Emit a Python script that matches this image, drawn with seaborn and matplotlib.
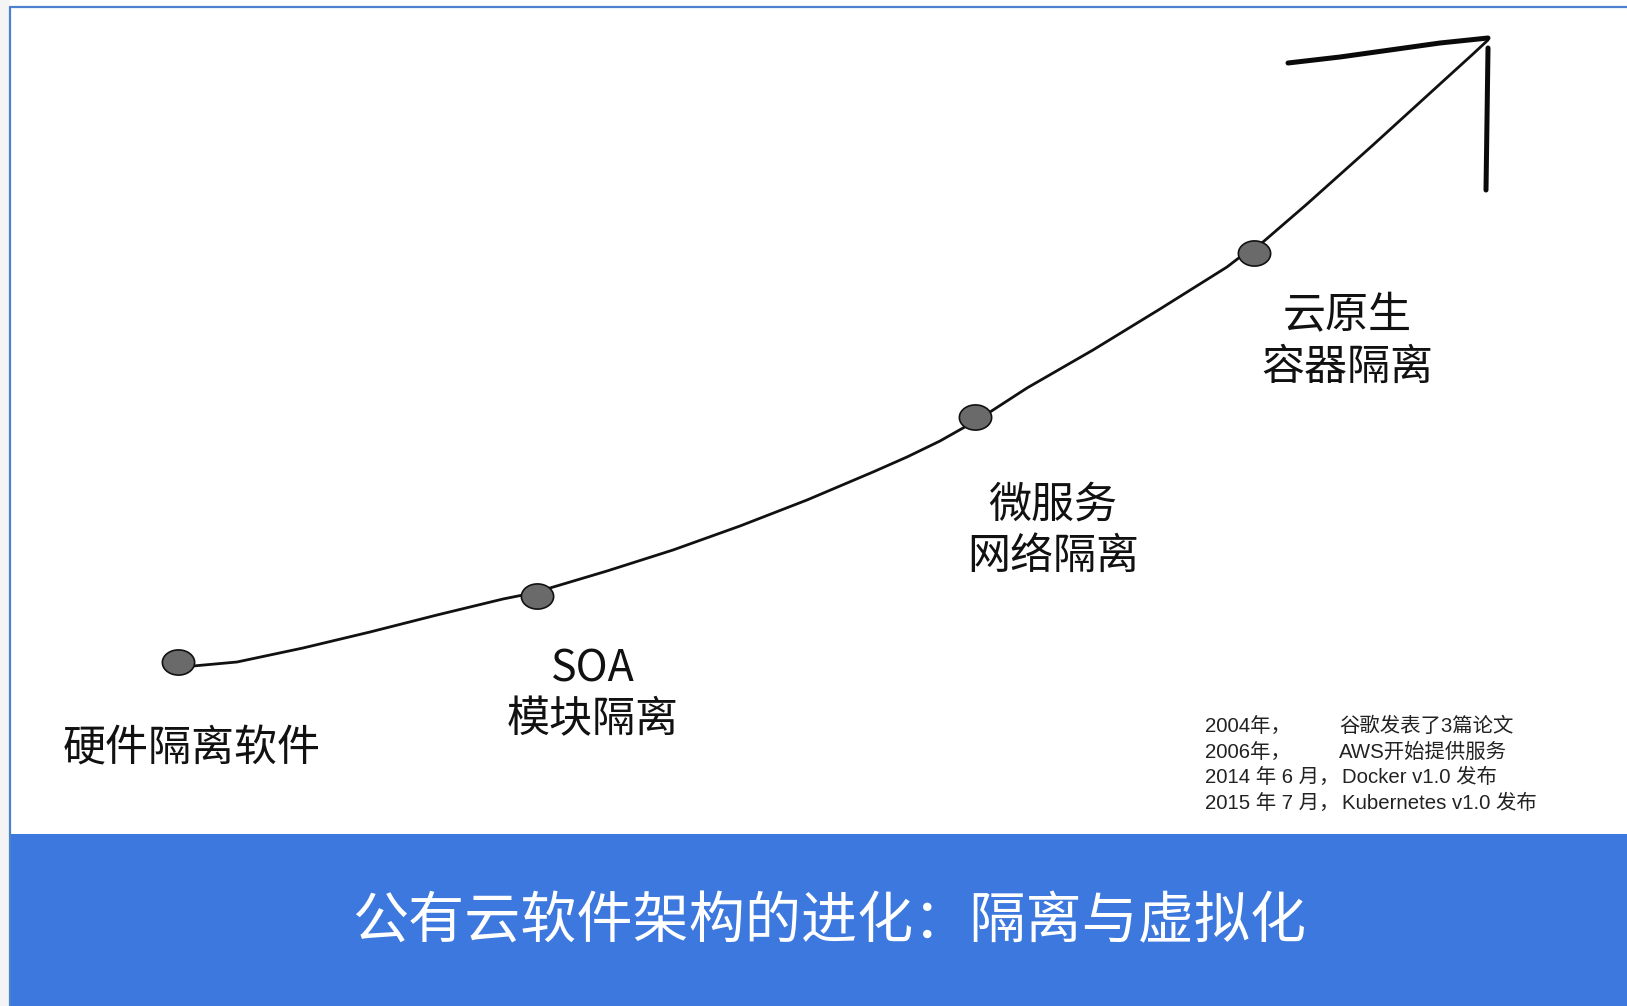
import numpy as np
import pandas as pd
import matplotlib
matplotlib.use("Agg")
import matplotlib.pyplot as plt
from matplotlib.path import Path
from matplotlib.patches import Rectangle
import seaborn as sns

# ---------------- data ----------------
stage_labels = ["硬件隔离软件", "SOA\n模块隔离", "微服务\n网络隔离", "云原生\n容器隔离"]
stage_x = [178, 537, 975, 1254]
stage_y = [662, 596, 417, 253]
label_x = [192, 593, 1053, 1347]
label_y = [750, 695, 531, 342]

curve_x = [180, 193, 237, 303, 370, 437, 503, 523, 550, 607, 673, 740, 807, 873, 907,
           940, 963, 990, 1027, 1093, 1160, 1227, 1240, 1263, 1307, 1373, 1440, 1473, 1488]
curve_y = [666, 666, 662, 648, 632, 615, 599, 595, 588, 571, 550, 526, 500, 472, 457,
           441, 428, 412, 388, 350, 309, 267, 257, 242, 204, 145, 84, 54, 40]

head_left_x = [1288, 1340, 1390, 1440, 1488]
head_left_y = [63, 57, 50, 43, 38]
head_right_x = [1488, 1487, 1486]
head_right_y = [48, 120, 190]

note_years = ["2004年，", "2006年，", "2014 年 6 月，", "2015 年 7 月，"]
note_events = ["谷歌发表了3篇论文", "AWS开始提供服务", "Docker v1.0 发布", "Kubernetes v1.0 发布"]
note_y = [726, 752, 777, 803]
note_event_x = [1339, 1339, 1342, 1342]

title = "公有云软件架构的进化：隔离与虚拟化"

# ---------------- style ----------------
sns.set_theme(style="white")
plt.rcParams["font.family"] = ["Noto Sans CJK SC", "DejaVu Sans"]

W, H = 1627, 1006
fig = plt.figure(figsize=(W / 100, H / 100), dpi=100)
ax = fig.add_axes([0, 0, 1, 1])
ax.set_xlim(0, W)
ax.set_ylim(H, 0)
ax.axis("off")

# background frame pieces
ax.add_patch(Rectangle((0, 0), 10, H, facecolor="#f4f4f4", edgecolor="none", zorder=0))
ax.add_patch(Rectangle((10, 834), W - 10, H - 834, facecolor="#3c78de", edgecolor="none", zorder=1))
ax.plot([10, 10], [7, H], color="#4d80cf", lw=1.6, zorder=2)
ax.plot([10, W], [7, 7], color="#4d80cf", lw=1.6, zorder=2)

# curve
curve = pd.DataFrame({"x": curve_x, "y": curve_y})
sns.lineplot(data=curve, x="x", y="y", sort=False, estimator=None, color="#111111",
             lw=2.0, ax=ax, zorder=3)

# arrow head strokes
sns.lineplot(x=head_left_x, y=head_left_y, sort=False, estimator=None, color="#0a0a0a",
             lw=3.6, ax=ax, zorder=3, solid_capstyle="round")
sns.lineplot(x=head_right_x, y=head_right_y, sort=False, estimator=None, color="#0a0a0a",
             lw=3.6, ax=ax, zorder=3, solid_capstyle="round")

# ellipse markers
t = np.linspace(0, 2 * np.pi, 60)
ell = Path(np.column_stack([np.cos(t), 0.78 * np.sin(t)]), closed=True)
stages = pd.DataFrame({"x": stage_x, "y": stage_y})
sns.scatterplot(data=stages, x="x", y="y", marker=ell, s=540, color="#6a6a6a",
                edgecolor="#111111", linewidth=1.2, ax=ax, zorder=4)

# stage labels
for lab, lx, ly in zip(stage_labels, label_x, label_y):
    ax.text(lx, ly, lab, ha="center", va="center", fontsize=31, color="#111111",
            linespacing=1.2, zorder=5)

# notes
note_font = ["Liberation Sans", "Noto Sans CJK SC"]
for yr, ev, ny, ex in zip(note_years, note_events, note_y, note_event_x):
    ax.text(1205, ny, yr, ha="left", va="center", fontsize=14.7, color="#222222",
            family=note_font, zorder=5)
    ax.text(ex, ny, ev, ha="left", va="center", fontsize=14.7, color="#222222",
            family=note_font, zorder=5)

# banner title
ax.text(829, 923, title, ha="center", va="center", fontsize=40.4, color="white",
        fontweight="light", zorder=5)

ax.set_xlabel("")
ax.set_ylabel("")
fig.savefig("out.png", dpi=100)
